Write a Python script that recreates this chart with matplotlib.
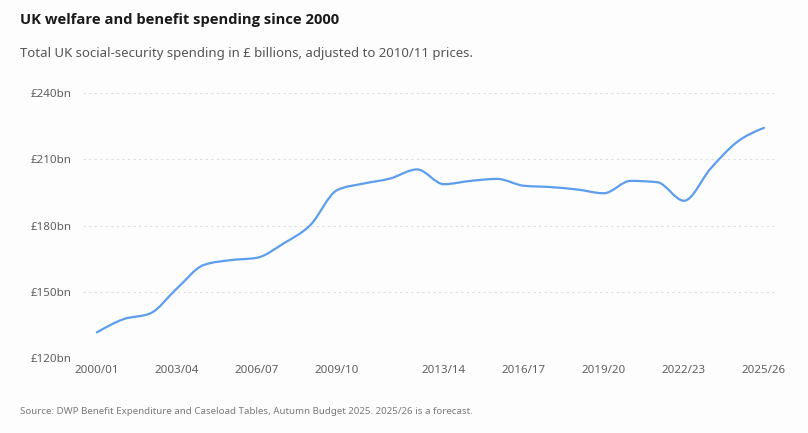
import matplotlib
matplotlib.use("Agg")
from matplotlib import pyplot as plt
from matplotlib.path import Path
from matplotlib.patches import PathPatch
import numpy as np

plt.rcParams['font.family'] = ['Noto Sans', 'DejaVu Sans']

years = ['2000/01', '2001/02', '2002/03', '2003/04', '2004/05', '2005/06',
         '2006/07', '2007/08', '2008/09', '2009/10', '2010/11', '2011/12',
         '2012/13', '2013/14', '2014/15', '2015/16', '2016/17', '2017/18',
         '2018/19', '2019/20', '2020/21', '2021/22', '2022/23', '2023/24',
         '2024/25', '2025/26']
spending = [131.6, 137.6, 140.2, 151.5, 162.1, 164.3, 165.4, 171.9, 180.2,
            196.0, 199.0, 201.3, 205.4, 198.7, 200.2, 201.1, 198.0, 197.4,
            196.3, 194.6, 200.2, 199.6, 191.2, 205.8, 217.9, 224.2]
tick_years = ['2000/01', '2003/04', '2006/07', '2009/10', '2013/14',
              '2016/17', '2019/20', '2022/23', '2025/26']
y_ticks = [120, 150, 180, 210, 240]

bg = '#fdfdfd'
grey = '#5f5f5f'

fig = plt.figure(figsize=(8.08, 4.33), dpi=100, facecolor=bg)
ax = fig.add_axes((83/808, 1-358/433, 693/808, 265/433))
ax.set_facecolor(bg)

x = np.arange(len(years), dtype=float)
y = np.array(spending)

# monotone-x cubic curve through the points (like d3.curveMonotoneX)
s = np.diff(y) / np.diff(x)
m = np.zeros_like(y)
for i in range(1, len(y) - 1):
    s0, s1 = s[i-1], s[i]
    p = (s0 + s1) / 2
    m[i] = (np.sign(s0) + np.sign(s1)) * min(abs(s0), abs(s1), 0.5*abs(p))
m[0] = (3*s[0] - m[1]) / 2
m[-1] = (3*s[-1] - m[-2]) / 2

verts = [(x[0], y[0])]
codes = [Path.MOVETO]
for i in range(len(x) - 1):
    h = x[i+1] - x[i]
    verts += [(x[i] + h/3, y[i] + m[i]*h/3),
              (x[i+1] - h/3, y[i+1] - m[i+1]*h/3),
              (x[i+1], y[i+1])]
    codes += [Path.CURVE4] * 3
ax.add_patch(PathPatch(Path(verts, codes), fill=False, edgecolor='#5c9ded',
                       linewidth=1.6, capstyle='round', joinstyle='round', zorder=3))

ax.set_xlim(-0.52, 25.45)
ax.set_ylim(120, 240)
ax.set_yticks(y_ticks)
ax.set_yticklabels(['£{}bn'.format(v) for v in y_ticks])
ax.set_xticks([years.index(t) for t in tick_years])
ax.set_xticklabels(tick_years)
ax.tick_params(length=0, labelsize=8.3, labelcolor=grey, pad=8)
ax.tick_params(axis='x', pad=5)
ax.grid(axis='y', color='#dcdcdc', linestyle=(0, (2, 3)), linewidth=0.8)
for sp in ax.spines.values():
    sp.set_visible(False)

fig.text(20/808, 1-20/433, 'UK welfare and benefit spending since 2000',
         fontsize=10.6, fontweight='bold', color='#1a1a1a', va='center',
         family=['Open Sans', 'DejaVu Sans'])
fig.text(20/808, 1-54/433,
         'Total UK social-security spending in £ billions, adjusted to 2010/11 prices.',
         fontsize=9.5, color='#555555', va='center')
fig.text(20/808, 1-411/433,
         'Source: DWP Benefit Expenditure and Caseload Tables, Autumn Budget 2025. 2025/26 is a forecast.',
         fontsize=7.0, color='#7a7a7a', va='center')

fig.savefig('out.png', dpi=100, facecolor=bg)
